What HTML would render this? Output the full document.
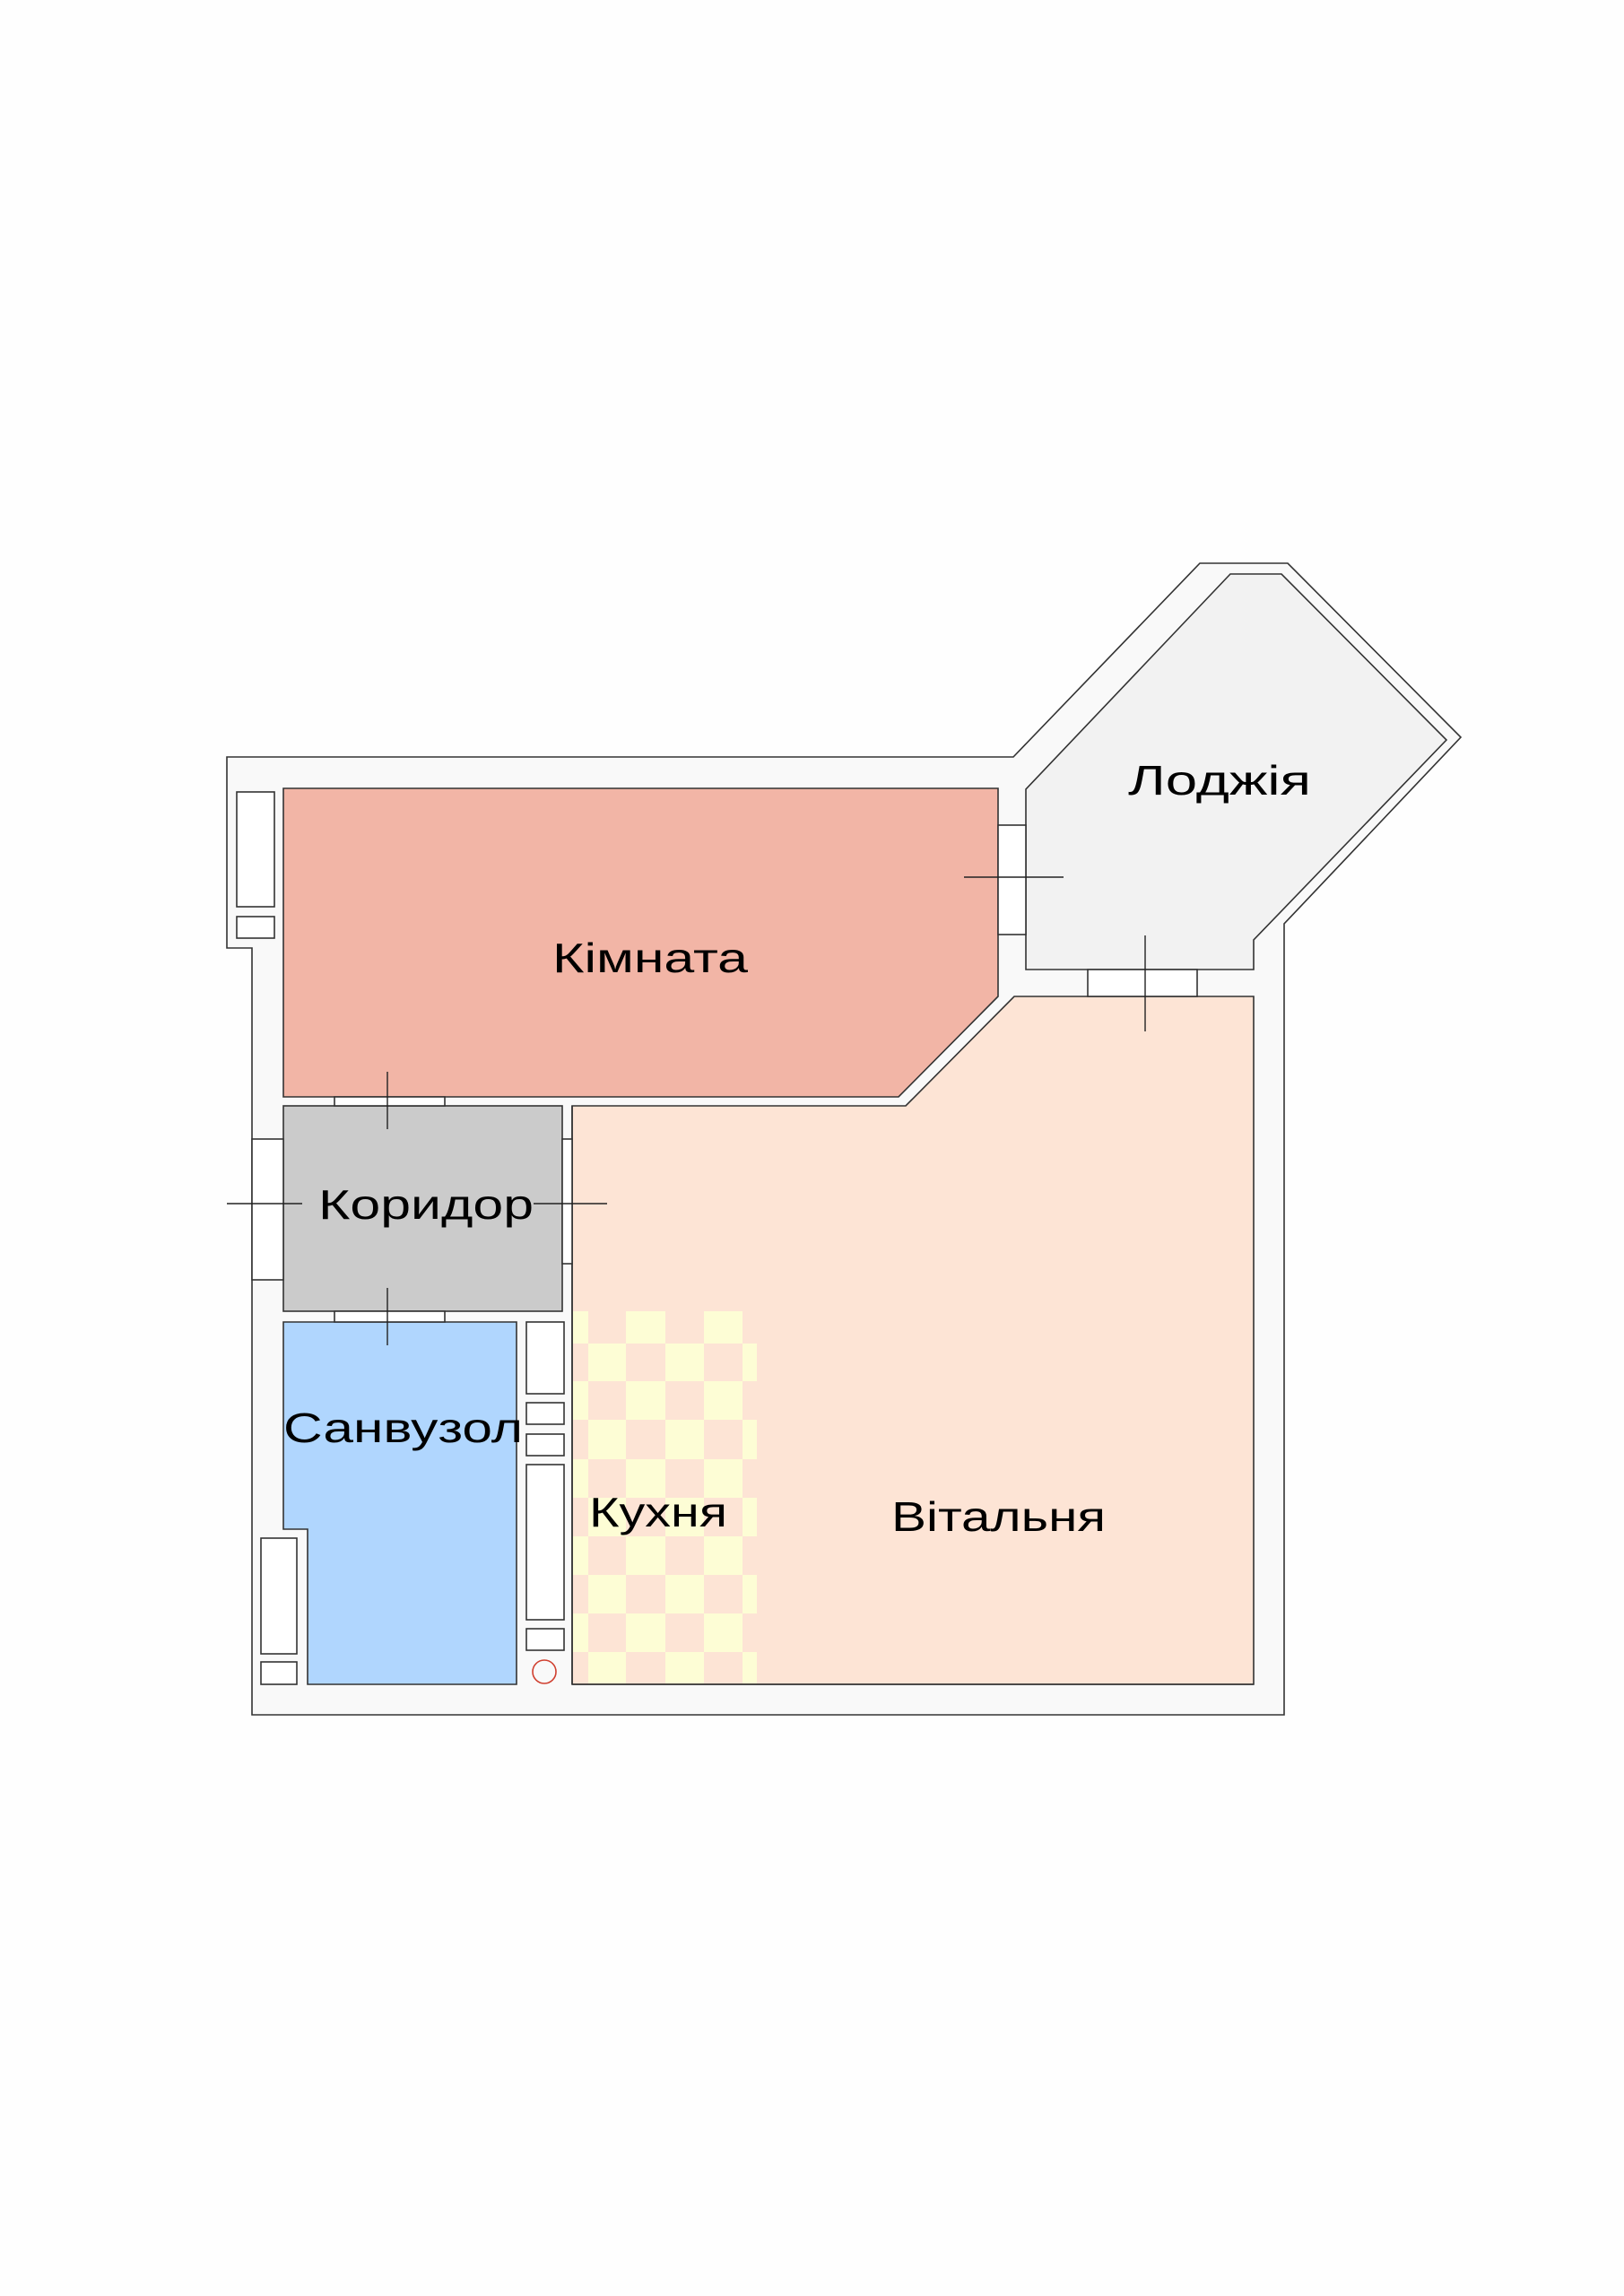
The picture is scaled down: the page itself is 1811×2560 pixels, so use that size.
<!DOCTYPE html>
<html><head><meta charset="utf-8"><style>
html,body{margin:0;padding:0;background:#fefefe;}
svg{display:block}
text{font-family:"Liberation Sans",sans-serif;fill:#000;font-size:46px;}
</style></head><body>
<svg width="1811" height="2560" viewBox="0 0 1811 2560" xmlns="http://www.w3.org/2000/svg">
<rect width="1811" height="2560" fill="#fefefe"/>
<g stroke="#333" stroke-width="1.6">
<polygon points="253,844 1130,844 1338,628 1436,628 1629,822 1432,1030 1432,1912 281,1912 281,1057 253,1057" fill="#f9f9f9"/>
<polygon points="1372,640 1429,640 1613,825 1398,1048 1398,1081 1144,1081 1144,880" fill="#f2f2f2"/>
<polygon points="316,879 1113,879 1113,1111 1002,1223 316,1223" fill="#f2b5a6"/>
<polygon points="638,1233 1010,1233 1131,1111 1398,1111 1398,1878 638,1878" fill="#fde4d5"/>
<rect x="316" y="1233" width="311" height="229" fill="#cbcbcb"/>
<polygon points="316,1474 576,1474 576,1878 343,1878 343,1705 316,1705" fill="#b0d6fe"/>
</g>
<g fill="#fdfdd5">
<rect x="639" y="1462" width="17" height="36"/><rect x="698" y="1462" width="44" height="36"/><rect x="785" y="1462" width="43" height="36"/>
<rect x="656" y="1498" width="42" height="42"/><rect x="742" y="1498" width="43" height="42"/><rect x="828" y="1498" width="16" height="42"/>
<rect x="639" y="1540" width="17" height="43"/><rect x="698" y="1540" width="44" height="43"/><rect x="785" y="1540" width="43" height="43"/>
<rect x="656" y="1583" width="42" height="44"/><rect x="742" y="1583" width="43" height="44"/><rect x="828" y="1583" width="16" height="44"/>
<rect x="639" y="1627" width="17" height="43"/><rect x="698" y="1627" width="44" height="43"/><rect x="785" y="1627" width="43" height="43"/>
<rect x="656" y="1670" width="42" height="43"/><rect x="742" y="1670" width="43" height="43"/><rect x="828" y="1670" width="16" height="43"/>
<rect x="639" y="1713" width="17" height="43"/><rect x="698" y="1713" width="44" height="43"/><rect x="785" y="1713" width="43" height="43"/>
<rect x="656" y="1756" width="42" height="43"/><rect x="742" y="1756" width="43" height="43"/><rect x="828" y="1756" width="16" height="43"/>
<rect x="639" y="1799" width="17" height="43"/><rect x="698" y="1799" width="44" height="43"/><rect x="785" y="1799" width="43" height="43"/>
<rect x="656" y="1842" width="42" height="35"/><rect x="742" y="1842" width="43" height="35"/><rect x="828" y="1842" width="16" height="35"/>
</g>
<line x1="638" y1="1878" x2="1398" y2="1878" stroke="#333" stroke-width="1.6"/>
<line x1="638" y1="1233" x2="638" y2="1878" stroke="#333" stroke-width="1.6"/>
<g stroke="#333" stroke-width="1.6" fill="#fff">
<rect x="1113" y="920" width="31" height="122"/>
<rect x="1213" y="1081" width="122" height="30"/>
<rect x="373" y="1223" width="123" height="10"/>
<rect x="373" y="1462" width="123" height="12"/>
<rect x="281" y="1270" width="35" height="157"/>
<rect x="627" y="1270" width="11" height="139"/>
<rect x="264" y="883" width="42" height="128"/>
<rect x="264" y="1022" width="42" height="24"/>
<rect x="291" y="1715" width="40" height="129"/>
<rect x="291" y="1853" width="40" height="25"/>
<rect x="587" y="1474" width="42" height="80"/>
<rect x="587" y="1564" width="42" height="24"/>
<rect x="587" y="1599" width="42" height="24"/>
<rect x="587" y="1633" width="42" height="173"/>
<rect x="587" y="1816" width="42" height="24"/>
</g>
<circle cx="607" cy="1864" r="13" fill="none" stroke="#d04030" stroke-width="1.6"/>
<g stroke="#222" stroke-width="1.4">
<line x1="1075" y1="978" x2="1186" y2="978"/>
<line x1="1277" y1="1043" x2="1277" y2="1150"/>
<line x1="432" y1="1195" x2="432" y2="1259"/>
<line x1="432" y1="1436" x2="432" y2="1500"/>
<line x1="253" y1="1342" x2="337" y2="1342"/>
<line x1="595" y1="1342" x2="677" y2="1342"/>
</g>
<text x="616" y="1084" textLength="218" lengthAdjust="spacingAndGlyphs">Кімната</text>
<text x="1258" y="886" textLength="204" lengthAdjust="spacingAndGlyphs">Лоджія</text>
<text x="355" y="1359" textLength="240" lengthAdjust="spacingAndGlyphs">Коридор</text>
<text x="316" y="1608" textLength="267" lengthAdjust="spacingAndGlyphs">Санвузол</text>
<text x="657" y="1702" textLength="154" lengthAdjust="spacingAndGlyphs">Кухня</text>
<text x="994" y="1707" textLength="239" lengthAdjust="spacingAndGlyphs">Вітальня</text>
</svg>
</body></html>
